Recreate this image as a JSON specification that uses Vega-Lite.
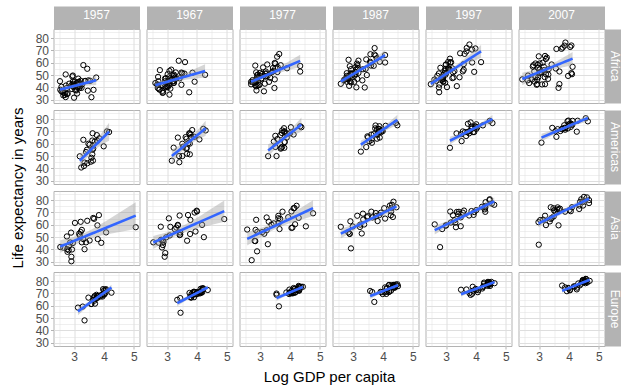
{
  "$schema": "https://vega.github.io/schema/vega-lite/v6.json",
  "padding": {"left": 9.5, "top": 6, "right": 0, "bottom": 0},
  "config": {
    "font": "Liberation Sans",
    "view": {"stroke": "#B3B3B3", "strokeWidth": 1},
    "axis": {"labelFont": "Liberation Sans", "titleFont": "Liberation Sans"}
  },
  "data": {"values": [
    {"cont":"Africa","year":1957,"lgdp":3.48,"lexp":45.7},{"cont":"Africa","year":1967,"lgdp":3.51,"lexp":51.4},{"cont":"Africa","year":1977,"lgdp":3.69,"lexp":58.0},{"cont":"Africa","year":1987,"lgdp":3.75,"lexp":65.8},{"cont":"Africa","year":1997,"lgdp":3.68,"lexp":69.2},{"cont":"Africa","year":2007,"lgdp":3.79,"lexp":72.3},
    {"cont":"Africa","year":1957,"lgdp":3.58,"lexp":32.0},{"cont":"Africa","year":1967,"lgdp":3.74,"lexp":36.0},{"cont":"Africa","year":1977,"lgdp":3.48,"lexp":39.5},{"cont":"Africa","year":1987,"lgdp":3.39,"lexp":39.9},{"cont":"Africa","year":1997,"lgdp":3.36,"lexp":41.0},{"cont":"Africa","year":2007,"lgdp":3.68,"lexp":42.7},
    {"cont":"Africa","year":1957,"lgdp":2.98,"lexp":40.4},{"cont":"Africa","year":1967,"lgdp":3.02,"lexp":44.9},{"cont":"Africa","year":1977,"lgdp":3.01,"lexp":49.2},{"cont":"Africa","year":1987,"lgdp":3.09,"lexp":52.3},{"cont":"Africa","year":1997,"lgdp":3.09,"lexp":54.8},{"cont":"Africa","year":2007,"lgdp":3.16,"lexp":56.7},
    {"cont":"Africa","year":1957,"lgdp":2.96,"lexp":49.6},{"cont":"Africa","year":1967,"lgdp":3.08,"lexp":53.3},{"cont":"Africa","year":1977,"lgdp":3.51,"lexp":59.3},{"cont":"Africa","year":1987,"lgdp":3.79,"lexp":63.6},{"cont":"Africa","year":1997,"lgdp":3.94,"lexp":52.6},{"cont":"Africa","year":2007,"lgdp":4.10,"lexp":50.7},
    {"cont":"Africa","year":1957,"lgdp":2.79,"lexp":34.9},{"cont":"Africa","year":1967,"lgdp":2.93,"lexp":40.7},{"cont":"Africa","year":1977,"lgdp":2.87,"lexp":46.1},{"cont":"Africa","year":1987,"lgdp":2.96,"lexp":49.6},{"cont":"Africa","year":1997,"lgdp":2.98,"lexp":50.3},{"cont":"Africa","year":2007,"lgdp":3.09,"lexp":52.3},
    {"cont":"Africa","year":1957,"lgdp":2.58,"lexp":40.5},{"cont":"Africa","year":1967,"lgdp":2.61,"lexp":43.5},{"cont":"Africa","year":1977,"lgdp":2.75,"lexp":45.9},{"cont":"Africa","year":1987,"lgdp":2.79,"lexp":48.2},{"cont":"Africa","year":1997,"lgdp":2.67,"lexp":45.3},{"cont":"Africa","year":2007,"lgdp":2.63,"lexp":49.6},
    {"cont":"Africa","year":1957,"lgdp":3.12,"lexp":40.4},{"cont":"Africa","year":1967,"lgdp":3.18,"lexp":44.8},{"cont":"Africa","year":1977,"lgdp":3.25,"lexp":49.4},{"cont":"Africa","year":1987,"lgdp":3.42,"lexp":55.0},{"cont":"Africa","year":1997,"lgdp":3.23,"lexp":52.2},{"cont":"Africa","year":2007,"lgdp":3.31,"lexp":50.4},
    {"cont":"Africa","year":1957,"lgdp":3.08,"lexp":37.5},{"cont":"Africa","year":1967,"lgdp":3.06,"lexp":41.5},{"cont":"Africa","year":1977,"lgdp":3.04,"lexp":46.8},{"cont":"Africa","year":1987,"lgdp":2.93,"lexp":50.5},{"cont":"Africa","year":1997,"lgdp":2.87,"lexp":46.1},{"cont":"Africa","year":2007,"lgdp":2.85,"lexp":44.7},
    {"cont":"Africa","year":1957,"lgdp":3.12,"lexp":39.9},{"cont":"Africa","year":1967,"lgdp":3.08,"lexp":43.6},{"cont":"Africa","year":1977,"lgdp":3.05,"lexp":47.4},{"cont":"Africa","year":1987,"lgdp":2.98,"lexp":51.1},{"cont":"Africa","year":1997,"lgdp":3.00,"lexp":51.6},{"cont":"Africa","year":2007,"lgdp":3.23,"lexp":50.7},
    {"cont":"Africa","year":1957,"lgdp":3.27,"lexp":42.5},{"cont":"Africa","year":1967,"lgdp":3.27,"lexp":46.5},{"cont":"Africa","year":1977,"lgdp":3.07,"lexp":50.9},{"cont":"Africa","year":1987,"lgdp":3.12,"lexp":54.9},{"cont":"Africa","year":1997,"lgdp":3.07,"lexp":60.7},{"cont":"Africa","year":2007,"lgdp":2.99,"lexp":65.2},
    {"cont":"Africa","year":1957,"lgdp":2.96,"lexp":40.7},{"cont":"Africa","year":1967,"lgdp":2.94,"lexp":45.0},{"cont":"Africa","year":1977,"lgdp":2.90,"lexp":47.8},{"cont":"Africa","year":1987,"lgdp":2.83,"lexp":47.4},{"cont":"Africa","year":1997,"lgdp":2.49,"lexp":42.6},{"cont":"Africa","year":2007,"lgdp":2.44,"lexp":46.5},
    {"cont":"Africa","year":1957,"lgdp":3.36,"lexp":45.1},{"cont":"Africa","year":1967,"lgdp":3.48,"lexp":52.0},{"cont":"Africa","year":1977,"lgdp":3.51,"lexp":55.6},{"cont":"Africa","year":1987,"lgdp":3.69,"lexp":57.5},{"cont":"Africa","year":1997,"lgdp":3.56,"lexp":53.0},{"cont":"Africa","year":2007,"lgdp":3.56,"lexp":55.3},
    {"cont":"Africa","year":1957,"lgdp":3.18,"lexp":42.5},{"cont":"Africa","year":1967,"lgdp":3.31,"lexp":47.4},{"cont":"Africa","year":1977,"lgdp":3.40,"lexp":52.4},{"cont":"Africa","year":1987,"lgdp":3.33,"lexp":54.7},{"cont":"Africa","year":1997,"lgdp":3.25,"lexp":48.0},{"cont":"Africa","year":2007,"lgdp":3.19,"lexp":48.3},
    {"cont":"Africa","year":1957,"lgdp":3.46,"lexp":37.3},{"cont":"Africa","year":1967,"lgdp":3.48,"lexp":42.1},{"cont":"Africa","year":1977,"lgdp":3.49,"lexp":46.5},{"cont":"Africa","year":1987,"lgdp":3.46,"lexp":50.0},{"cont":"Africa","year":1997,"lgdp":3.28,"lexp":53.2},{"cont":"Africa","year":2007,"lgdp":3.32,"lexp":54.8},
    {"cont":"Africa","year":1957,"lgdp":3.16,"lexp":44.4},{"cont":"Africa","year":1967,"lgdp":3.23,"lexp":49.3},{"cont":"Africa","year":1977,"lgdp":3.44,"lexp":53.3},{"cont":"Africa","year":1987,"lgdp":3.59,"lexp":59.8},{"cont":"Africa","year":1997,"lgdp":3.62,"lexp":67.2},{"cont":"Africa","year":2007,"lgdp":3.75,"lexp":71.3},
    {"cont":"Africa","year":1957,"lgdp":2.63,"lexp":36.0},{"cont":"Africa","year":1967,"lgdp":2.96,"lexp":40.0},{"cont":"Africa","year":1977,"lgdp":2.98,"lexp":42.0},{"cont":"Africa","year":1987,"lgdp":3.31,"lexp":45.7},{"cont":"Africa","year":1997,"lgdp":3.45,"lexp":48.2},{"cont":"Africa","year":2007,"lgdp":4.08,"lexp":51.6},
    {"cont":"Africa","year":1957,"lgdp":2.54,"lexp":38.0},{"cont":"Africa","year":1967,"lgdp":2.67,"lexp":42.2},{"cont":"Africa","year":1977,"lgdp":2.70,"lexp":44.5},{"cont":"Africa","year":1987,"lgdp":2.72,"lexp":46.5},{"cont":"Africa","year":1997,"lgdp":2.96,"lexp":53.4},{"cont":"Africa","year":2007,"lgdp":2.81,"lexp":58.0},
    {"cont":"Africa","year":1957,"lgdp":2.58,"lexp":36.7},{"cont":"Africa","year":1967,"lgdp":2.71,"lexp":42.1},{"cont":"Africa","year":1977,"lgdp":2.75,"lexp":44.5},{"cont":"Africa","year":1987,"lgdp":2.76,"lexp":46.7},{"cont":"Africa","year":1997,"lgdp":2.71,"lexp":49.4},{"cont":"Africa","year":2007,"lgdp":2.84,"lexp":52.9},
    {"cont":"Africa","year":1957,"lgdp":3.65,"lexp":38.0},{"cont":"Africa","year":1967,"lgdp":3.92,"lexp":44.6},{"cont":"Africa","year":1977,"lgdp":4.34,"lexp":52.8},{"cont":"Africa","year":1987,"lgdp":4.07,"lexp":60.2},{"cont":"Africa","year":1997,"lgdp":4.17,"lexp":60.5},{"cont":"Africa","year":2007,"lgdp":4.12,"lexp":56.7},
    {"cont":"Africa","year":1957,"lgdp":2.72,"lexp":32.1},{"cont":"Africa","year":1967,"lgdp":2.87,"lexp":35.9},{"cont":"Africa","year":1977,"lgdp":2.95,"lexp":41.8},{"cont":"Africa","year":1987,"lgdp":2.79,"lexp":49.3},{"cont":"Africa","year":1997,"lgdp":2.81,"lexp":55.9},{"cont":"Africa","year":2007,"lgdp":2.88,"lexp":59.4},
    {"cont":"Africa","year":1957,"lgdp":3.02,"lexp":44.8},{"cont":"Africa","year":1967,"lgdp":3.05,"lexp":48.1},{"cont":"Africa","year":1977,"lgdp":3.00,"lexp":51.8},{"cont":"Africa","year":1987,"lgdp":2.93,"lexp":54.8},{"cont":"Africa","year":1997,"lgdp":3.00,"lexp":58.6},{"cont":"Africa","year":2007,"lgdp":3.12,"lexp":60.0},
    {"cont":"Africa","year":1957,"lgdp":2.76,"lexp":34.6},{"cont":"Africa","year":1967,"lgdp":2.85,"lexp":37.2},{"cont":"Africa","year":1977,"lgdp":2.87,"lexp":40.8},{"cont":"Africa","year":1987,"lgdp":2.90,"lexp":45.0},{"cont":"Africa","year":1997,"lgdp":2.94,"lexp":51.5},{"cont":"Africa","year":2007,"lgdp":2.97,"lexp":56.0},
    {"cont":"Africa","year":1957,"lgdp":2.64,"lexp":33.5},{"cont":"Africa","year":1967,"lgdp":2.85,"lexp":35.5},{"cont":"Africa","year":1977,"lgdp":2.88,"lexp":37.5},{"cont":"Africa","year":1987,"lgdp":2.87,"lexp":41.2},{"cont":"Africa","year":1997,"lgdp":2.90,"lexp":44.9},{"cont":"Africa","year":2007,"lgdp":2.76,"lexp":46.4},
    {"cont":"Africa","year":1957,"lgdp":2.96,"lexp":44.7},{"cont":"Africa","year":1967,"lgdp":3.02,"lexp":50.7},{"cont":"Africa","year":1977,"lgdp":3.10,"lexp":56.2},{"cont":"Africa","year":1987,"lgdp":3.13,"lexp":59.3},{"cont":"Africa","year":1997,"lgdp":3.13,"lexp":54.4},{"cont":"Africa","year":2007,"lgdp":3.17,"lexp":54.1},
    {"cont":"Africa","year":1957,"lgdp":2.53,"lexp":45.0},{"cont":"Africa","year":1967,"lgdp":2.70,"lexp":48.5},{"cont":"Africa","year":1977,"lgdp":2.87,"lexp":52.2},{"cont":"Africa","year":1987,"lgdp":2.89,"lexp":57.2},{"cont":"Africa","year":1997,"lgdp":3.07,"lexp":55.6},{"cont":"Africa","year":2007,"lgdp":3.20,"lexp":42.6},
    {"cont":"Africa","year":1957,"lgdp":2.76,"lexp":39.5},{"cont":"Africa","year":1967,"lgdp":2.85,"lexp":41.5},{"cont":"Africa","year":1977,"lgdp":2.81,"lexp":43.8},{"cont":"Africa","year":1987,"lgdp":2.70,"lexp":46.0},{"cont":"Africa","year":1997,"lgdp":2.78,"lexp":42.2},{"cont":"Africa","year":2007,"lgdp":2.62,"lexp":45.7},
    {"cont":"Africa","year":1957,"lgdp":3.54,"lexp":45.3},{"cont":"Africa","year":1967,"lgdp":4.27,"lexp":50.2},{"cont":"Africa","year":1977,"lgdp":4.34,"lexp":57.4},{"cont":"Africa","year":1987,"lgdp":4.07,"lexp":66.2},{"cont":"Africa","year":1997,"lgdp":3.98,"lexp":71.6},{"cont":"Africa","year":2007,"lgdp":4.08,"lexp":74.0},
    {"cont":"Africa","year":1957,"lgdp":3.20,"lexp":40.8},{"cont":"Africa","year":1967,"lgdp":3.21,"lexp":44.9},{"cont":"Africa","year":1977,"lgdp":3.19,"lexp":49.0},{"cont":"Africa","year":1987,"lgdp":3.05,"lexp":49.4},{"cont":"Africa","year":1997,"lgdp":2.99,"lexp":55.0},{"cont":"Africa","year":2007,"lgdp":3.02,"lexp":59.4},
    {"cont":"Africa","year":1957,"lgdp":2.62,"lexp":37.2},{"cont":"Africa","year":1967,"lgdp":2.69,"lexp":39.5},{"cont":"Africa","year":1977,"lgdp":2.82,"lexp":43.8},{"cont":"Africa","year":1987,"lgdp":2.80,"lexp":47.5},{"cont":"Africa","year":1997,"lgdp":2.84,"lexp":47.5},{"cont":"Africa","year":2007,"lgdp":2.88,"lexp":48.3},
    {"cont":"Africa","year":1957,"lgdp":2.69,"lexp":35.3},{"cont":"Africa","year":1967,"lgdp":2.74,"lexp":38.5},{"cont":"Africa","year":1977,"lgdp":2.84,"lexp":41.7},{"cont":"Africa","year":1987,"lgdp":2.84,"lexp":46.4},{"cont":"Africa","year":1997,"lgdp":2.90,"lexp":49.9},{"cont":"Africa","year":2007,"lgdp":3.02,"lexp":54.5},
    {"cont":"Africa","year":1957,"lgdp":2.93,"lexp":42.3},{"cont":"Africa","year":1967,"lgdp":3.15,"lexp":46.3},{"cont":"Africa","year":1977,"lgdp":3.18,"lexp":50.9},{"cont":"Africa","year":1987,"lgdp":3.15,"lexp":58.0},{"cont":"Africa","year":1997,"lgdp":3.17,"lexp":60.4},{"cont":"Africa","year":2007,"lgdp":3.26,"lexp":64.2},
    {"cont":"Africa","year":1957,"lgdp":3.31,"lexp":58.1},{"cont":"Africa","year":1967,"lgdp":3.39,"lexp":61.6},{"cont":"Africa","year":1977,"lgdp":3.57,"lexp":64.9},{"cont":"Africa","year":1987,"lgdp":3.71,"lexp":66.7},{"cont":"Africa","year":1997,"lgdp":3.87,"lexp":70.7},{"cont":"Africa","year":2007,"lgdp":4.04,"lexp":72.8},
    {"cont":"Africa","year":1957,"lgdp":3.22,"lexp":45.4},{"cont":"Africa","year":1967,"lgdp":3.23,"lexp":50.3},{"cont":"Africa","year":1977,"lgdp":3.43,"lexp":55.7},{"cont":"Africa","year":1987,"lgdp":3.44,"lexp":62.7},{"cont":"Africa","year":1997,"lgdp":3.47,"lexp":67.7},{"cont":"Africa","year":2007,"lgdp":3.58,"lexp":71.2},
    {"cont":"Africa","year":1957,"lgdp":2.69,"lexp":33.8},{"cont":"Africa","year":1967,"lgdp":2.75,"lexp":38.1},{"cont":"Africa","year":1977,"lgdp":2.70,"lexp":42.5},{"cont":"Africa","year":1987,"lgdp":2.59,"lexp":42.9},{"cont":"Africa","year":1997,"lgdp":2.61,"lexp":46.3},{"cont":"Africa","year":2007,"lgdp":2.92,"lexp":42.1},
    {"cont":"Africa","year":1957,"lgdp":3.38,"lexp":45.2},{"cont":"Africa","year":1967,"lgdp":3.58,"lexp":51.2},{"cont":"Africa","year":1977,"lgdp":3.59,"lexp":56.4},{"cont":"Africa","year":1987,"lgdp":3.57,"lexp":60.8},{"cont":"Africa","year":1997,"lgdp":3.59,"lexp":58.9},{"cont":"Africa","year":2007,"lgdp":3.68,"lexp":52.9},
    {"cont":"Africa","year":1957,"lgdp":2.93,"lexp":38.6},{"cont":"Africa","year":1967,"lgdp":3.02,"lexp":40.1},{"cont":"Africa","year":1977,"lgdp":2.91,"lexp":41.3},{"cont":"Africa","year":1987,"lgdp":2.79,"lexp":44.6},{"cont":"Africa","year":1997,"lgdp":2.76,"lexp":51.3},{"cont":"Africa","year":2007,"lgdp":2.79,"lexp":56.9},
    {"cont":"Africa","year":1957,"lgdp":3.04,"lexp":37.8},{"cont":"Africa","year":1967,"lgdp":3.01,"lexp":41.0},{"cont":"Africa","year":1977,"lgdp":3.30,"lexp":44.5},{"cont":"Africa","year":1987,"lgdp":3.14,"lexp":46.9},{"cont":"Africa","year":1997,"lgdp":3.21,"lexp":47.5},{"cont":"Africa","year":2007,"lgdp":3.30,"lexp":46.9},
    {"cont":"Africa","year":1957,"lgdp":3.44,"lexp":55.1},{"cont":"Africa","year":1967,"lgdp":3.60,"lexp":60.5},{"cont":"Africa","year":1977,"lgdp":3.64,"lexp":67.1},{"cont":"Africa","year":1987,"lgdp":3.72,"lexp":71.9},{"cont":"Africa","year":1997,"lgdp":3.78,"lexp":74.8},{"cont":"Africa","year":2007,"lgdp":3.88,"lexp":76.4},
    {"cont":"Africa","year":1957,"lgdp":2.73,"lexp":41.5},{"cont":"Africa","year":1967,"lgdp":2.71,"lexp":45.0},{"cont":"Africa","year":1977,"lgdp":2.83,"lexp":45.0},{"cont":"Africa","year":1987,"lgdp":2.93,"lexp":44.0},{"cont":"Africa","year":1997,"lgdp":2.77,"lexp":36.1},{"cont":"Africa","year":2007,"lgdp":2.94,"lexp":46.2},
    {"cont":"Africa","year":1957,"lgdp":2.94,"lexp":48.9},{"cont":"Africa","year":1967,"lgdp":3.14,"lexp":54.4},{"cont":"Africa","year":1977,"lgdp":3.24,"lexp":58.6},{"cont":"Africa","year":1987,"lgdp":3.18,"lexp":61.7},{"cont":"Africa","year":1997,"lgdp":3.13,"lexp":63.3},{"cont":"Africa","year":2007,"lgdp":3.20,"lexp":65.5},
    {"cont":"Africa","year":1957,"lgdp":3.18,"lexp":39.3},{"cont":"Africa","year":1967,"lgdp":3.21,"lexp":43.6},{"cont":"Africa","year":1977,"lgdp":3.19,"lexp":48.9},{"cont":"Africa","year":1987,"lgdp":3.16,"lexp":55.8},{"cont":"Africa","year":1997,"lgdp":3.14,"lexp":60.2},{"cont":"Africa","year":2007,"lgdp":3.23,"lexp":63.1},
    {"cont":"Africa","year":1957,"lgdp":3.00,"lexp":31.6},{"cont":"Africa","year":1967,"lgdp":3.08,"lexp":34.1},{"cont":"Africa","year":1977,"lgdp":3.13,"lexp":36.8},{"cont":"Africa","year":1987,"lgdp":3.11,"lexp":40.0},{"cont":"Africa","year":1997,"lgdp":2.76,"lexp":39.9},{"cont":"Africa","year":2007,"lgdp":2.94,"lexp":42.6},
    {"cont":"Africa","year":1957,"lgdp":3.10,"lexp":35.0},{"cont":"Africa","year":1967,"lgdp":3.11,"lexp":39.0},{"cont":"Africa","year":1977,"lgdp":3.16,"lexp":43.0},{"cont":"Africa","year":1987,"lgdp":3.04,"lexp":44.5},{"cont":"Africa","year":1997,"lgdp":2.97,"lexp":43.8},{"cont":"Africa","year":2007,"lgdp":2.97,"lexp":48.2},
    {"cont":"Africa","year":1957,"lgdp":3.74,"lexp":48.0},{"cont":"Africa","year":1967,"lgdp":3.85,"lexp":51.9},{"cont":"Africa","year":1977,"lgdp":3.90,"lexp":55.5},{"cont":"Africa","year":1987,"lgdp":3.89,"lexp":60.8},{"cont":"Africa","year":1997,"lgdp":3.87,"lexp":60.2},{"cont":"Africa","year":2007,"lgdp":3.97,"lexp":49.3},
    {"cont":"Africa","year":1957,"lgdp":3.25,"lexp":39.6},{"cont":"Africa","year":1967,"lgdp":3.23,"lexp":43.6},{"cont":"Africa","year":1977,"lgdp":3.34,"lexp":47.8},{"cont":"Africa","year":1987,"lgdp":3.18,"lexp":51.7},{"cont":"Africa","year":1997,"lgdp":3.21,"lexp":55.4},{"cont":"Africa","year":2007,"lgdp":3.42,"lexp":58.6},
    {"cont":"Africa","year":1957,"lgdp":3.09,"lexp":43.4},{"cont":"Africa","year":1967,"lgdp":3.42,"lexp":47.3},{"cont":"Africa","year":1977,"lgdp":3.58,"lexp":52.5},{"cont":"Africa","year":1987,"lgdp":3.60,"lexp":57.7},{"cont":"Africa","year":1997,"lgdp":3.59,"lexp":54.3},{"cont":"Africa","year":2007,"lgdp":3.65,"lexp":39.6},
    {"cont":"Africa","year":1957,"lgdp":2.84,"lexp":43.0},{"cont":"Africa","year":1967,"lgdp":2.93,"lexp":47.1},{"cont":"Africa","year":1977,"lgdp":2.90,"lexp":49.9},{"cont":"Africa","year":1987,"lgdp":2.92,"lexp":51.5},{"cont":"Africa","year":1997,"lgdp":2.90,"lexp":48.5},{"cont":"Africa","year":2007,"lgdp":3.04,"lexp":52.5},
    {"cont":"Africa","year":1957,"lgdp":2.97,"lexp":42.9},{"cont":"Africa","year":1967,"lgdp":3.17,"lexp":46.8},{"cont":"Africa","year":1977,"lgdp":3.19,"lexp":52.9},{"cont":"Africa","year":1987,"lgdp":3.08,"lexp":56.4},{"cont":"Africa","year":1997,"lgdp":2.99,"lexp":58.4},{"cont":"Africa","year":2007,"lgdp":2.95,"lexp":58.4},
    {"cont":"Africa","year":1957,"lgdp":3.14,"lexp":47.1},{"cont":"Africa","year":1967,"lgdp":3.29,"lexp":52.1},{"cont":"Africa","year":1977,"lgdp":3.49,"lexp":59.8},{"cont":"Africa","year":1987,"lgdp":3.58,"lexp":66.9},{"cont":"Africa","year":1997,"lgdp":3.69,"lexp":72.0},{"cont":"Africa","year":2007,"lgdp":3.85,"lexp":73.9},
    {"cont":"Africa","year":1957,"lgdp":2.96,"lexp":41.0},{"cont":"Africa","year":1967,"lgdp":2.96,"lexp":47.3},{"cont":"Africa","year":1977,"lgdp":2.93,"lexp":50.4},{"cont":"Africa","year":1987,"lgdp":2.79,"lexp":51.5},{"cont":"Africa","year":1997,"lgdp":2.91,"lexp":44.6},{"cont":"Africa","year":2007,"lgdp":3.02,"lexp":51.5},
    {"cont":"Africa","year":1957,"lgdp":3.12,"lexp":44.1},{"cont":"Africa","year":1967,"lgdp":3.25,"lexp":47.8},{"cont":"Africa","year":1977,"lgdp":3.20,"lexp":51.4},{"cont":"Africa","year":1987,"lgdp":3.08,"lexp":50.8},{"cont":"Africa","year":1997,"lgdp":3.03,"lexp":40.2},{"cont":"Africa","year":2007,"lgdp":3.10,"lexp":42.4},
    {"cont":"Africa","year":1957,"lgdp":2.72,"lexp":50.5},{"cont":"Africa","year":1967,"lgdp":2.76,"lexp":54.0},{"cont":"Africa","year":1977,"lgdp":2.84,"lexp":57.7},{"cont":"Africa","year":1987,"lgdp":2.85,"lexp":62.4},{"cont":"Africa","year":1997,"lgdp":2.90,"lexp":46.8},{"cont":"Africa","year":2007,"lgdp":2.67,"lexp":43.5},

    {"cont":"Americas","year":1957,"lgdp":3.84,"lexp":64.4},{"cont":"Americas","year":1967,"lgdp":3.91,"lexp":65.6},{"cont":"Americas","year":1977,"lgdp":4.00,"lexp":68.5},{"cont":"Americas","year":1987,"lgdp":3.96,"lexp":70.8},{"cont":"Americas","year":1997,"lgdp":4.04,"lexp":73.3},{"cont":"Americas","year":2007,"lgdp":4.11,"lexp":75.3},
    {"cont":"Americas","year":1957,"lgdp":3.33,"lexp":41.9},{"cont":"Americas","year":1967,"lgdp":3.41,"lexp":45.0},{"cont":"Americas","year":1977,"lgdp":3.55,"lexp":50.0},{"cont":"Americas","year":1987,"lgdp":3.44,"lexp":57.3},{"cont":"Americas","year":1997,"lgdp":3.52,"lexp":62.1},{"cont":"Americas","year":2007,"lgdp":3.58,"lexp":65.6},
    {"cont":"Americas","year":1957,"lgdp":3.40,"lexp":53.3},{"cont":"Americas","year":1967,"lgdp":3.54,"lexp":57.6},{"cont":"Americas","year":1977,"lgdp":3.82,"lexp":61.5},{"cont":"Americas","year":1987,"lgdp":3.89,"lexp":65.0},{"cont":"Americas","year":1997,"lgdp":3.90,"lexp":69.4},{"cont":"Americas","year":2007,"lgdp":3.96,"lexp":72.4},
    {"cont":"Americas","year":1957,"lgdp":4.10,"lexp":70.0},{"cont":"Americas","year":1967,"lgdp":4.21,"lexp":72.1},{"cont":"Americas","year":1977,"lgdp":4.34,"lexp":74.2},{"cont":"Americas","year":1987,"lgdp":4.43,"lexp":76.9},{"cont":"Americas","year":1997,"lgdp":4.46,"lexp":78.6},{"cont":"Americas","year":2007,"lgdp":4.56,"lexp":80.7},
    {"cont":"Americas","year":1957,"lgdp":3.64,"lexp":56.1},{"cont":"Americas","year":1967,"lgdp":3.71,"lexp":60.5},{"cont":"Americas","year":1977,"lgdp":3.68,"lexp":67.1},{"cont":"Americas","year":1987,"lgdp":3.74,"lexp":72.5},{"cont":"Americas","year":1997,"lgdp":4.01,"lexp":75.8},{"cont":"Americas","year":2007,"lgdp":4.12,"lexp":78.6},
    {"cont":"Americas","year":1957,"lgdp":3.43,"lexp":55.1},{"cont":"Americas","year":1967,"lgdp":3.51,"lexp":60.0},{"cont":"Americas","year":1977,"lgdp":3.58,"lexp":63.8},{"cont":"Americas","year":1987,"lgdp":3.69,"lexp":67.8},{"cont":"Americas","year":1997,"lgdp":3.79,"lexp":70.3},{"cont":"Americas","year":2007,"lgdp":3.85,"lexp":72.9},
    {"cont":"Americas","year":1957,"lgdp":3.48,"lexp":60.0},{"cont":"Americas","year":1967,"lgdp":3.62,"lexp":65.4},{"cont":"Americas","year":1977,"lgdp":3.74,"lexp":70.8},{"cont":"Americas","year":1987,"lgdp":3.75,"lexp":74.8},{"cont":"Americas","year":1997,"lgdp":3.82,"lexp":77.3},{"cont":"Americas","year":2007,"lgdp":3.98,"lexp":78.8},
    {"cont":"Americas","year":1957,"lgdp":3.78,"lexp":62.3},{"cont":"Americas","year":1967,"lgdp":3.76,"lexp":68.3},{"cont":"Americas","year":1977,"lgdp":3.80,"lexp":72.6},{"cont":"Americas","year":1987,"lgdp":3.88,"lexp":74.2},{"cont":"Americas","year":1997,"lgdp":3.73,"lexp":76.2},{"cont":"Americas","year":2007,"lgdp":3.95,"lexp":78.3},
    {"cont":"Americas","year":1957,"lgdp":3.19,"lexp":49.8},{"cont":"Americas","year":1967,"lgdp":3.22,"lexp":56.8},{"cont":"Americas","year":1977,"lgdp":3.46,"lexp":61.8},{"cont":"Americas","year":1987,"lgdp":3.48,"lexp":66.0},{"cont":"Americas","year":1997,"lgdp":3.56,"lexp":70.0},{"cont":"Americas","year":2007,"lgdp":3.78,"lexp":72.2},
    {"cont":"Americas","year":1957,"lgdp":3.61,"lexp":51.4},{"cont":"Americas","year":1967,"lgdp":3.66,"lexp":56.7},{"cont":"Americas","year":1977,"lgdp":3.82,"lexp":61.3},{"cont":"Americas","year":1987,"lgdp":3.81,"lexp":67.2},{"cont":"Americas","year":1997,"lgdp":3.87,"lexp":72.3},{"cont":"Americas","year":2007,"lgdp":3.84,"lexp":75.0},
    {"cont":"Americas","year":1957,"lgdp":3.58,"lexp":48.6},{"cont":"Americas","year":1967,"lgdp":3.64,"lexp":55.9},{"cont":"Americas","year":1977,"lgdp":3.71,"lexp":56.7},{"cont":"Americas","year":1987,"lgdp":3.62,"lexp":63.2},{"cont":"Americas","year":1997,"lgdp":3.71,"lexp":69.5},{"cont":"Americas","year":2007,"lgdp":3.76,"lexp":71.9},
    {"cont":"Americas","year":1957,"lgdp":3.44,"lexp":44.1},{"cont":"Americas","year":1967,"lgdp":3.51,"lexp":50.0},{"cont":"Americas","year":1977,"lgdp":3.69,"lexp":56.0},{"cont":"Americas","year":1987,"lgdp":3.63,"lexp":60.8},{"cont":"Americas","year":1997,"lgdp":3.67,"lexp":66.3},{"cont":"Americas","year":2007,"lgdp":3.71,"lexp":70.3},
    {"cont":"Americas","year":1957,"lgdp":3.24,"lexp":40.7},{"cont":"Americas","year":1967,"lgdp":3.16,"lexp":46.2},{"cont":"Americas","year":1977,"lgdp":3.27,"lexp":49.9},{"cont":"Americas","year":1987,"lgdp":3.26,"lexp":53.6},{"cont":"Americas","year":1997,"lgdp":3.13,"lexp":56.7},{"cont":"Americas","year":2007,"lgdp":3.08,"lexp":60.9},
    {"cont":"Americas","year":1957,"lgdp":3.35,"lexp":44.7},{"cont":"Americas","year":1967,"lgdp":3.40,"lexp":50.0},{"cont":"Americas","year":1977,"lgdp":3.51,"lexp":57.4},{"cont":"Americas","year":1987,"lgdp":3.50,"lexp":65.2},{"cont":"Americas","year":1997,"lgdp":3.50,"lexp":67.7},{"cont":"Americas","year":2007,"lgdp":3.55,"lexp":70.2},
    {"cont":"Americas","year":1957,"lgdp":3.61,"lexp":62.6},{"cont":"Americas","year":1967,"lgdp":3.79,"lexp":67.5},{"cont":"Americas","year":1977,"lgdp":3.82,"lexp":70.1},{"cont":"Americas","year":1987,"lgdp":3.80,"lexp":71.8},{"cont":"Americas","year":1997,"lgdp":3.85,"lexp":72.3},{"cont":"Americas","year":2007,"lgdp":3.86,"lexp":72.6},
    {"cont":"Americas","year":1957,"lgdp":3.62,"lexp":55.2},{"cont":"Americas","year":1967,"lgdp":3.76,"lexp":60.1},{"cont":"Americas","year":1977,"lgdp":3.89,"lexp":65.0},{"cont":"Americas","year":1987,"lgdp":3.94,"lexp":69.5},{"cont":"Americas","year":1997,"lgdp":3.99,"lexp":73.7},{"cont":"Americas","year":2007,"lgdp":4.08,"lexp":76.2},
    {"cont":"Americas","year":1957,"lgdp":3.56,"lexp":45.4},{"cont":"Americas","year":1967,"lgdp":3.67,"lexp":51.9},{"cont":"Americas","year":1977,"lgdp":3.74,"lexp":57.5},{"cont":"Americas","year":1987,"lgdp":3.54,"lexp":62.0},{"cont":"Americas","year":1997,"lgdp":3.35,"lexp":68.4},{"cont":"Americas","year":2007,"lgdp":3.44,"lexp":72.9},
    {"cont":"Americas","year":1957,"lgdp":3.52,"lexp":59.2},{"cont":"Americas","year":1967,"lgdp":3.65,"lexp":64.1},{"cont":"Americas","year":1977,"lgdp":3.73,"lexp":68.7},{"cont":"Americas","year":1987,"lgdp":3.85,"lexp":72.1},{"cont":"Americas","year":1997,"lgdp":3.85,"lexp":74.0},{"cont":"Americas","year":2007,"lgdp":3.99,"lexp":75.5},
    {"cont":"Americas","year":1957,"lgdp":3.31,"lexp":63.2},{"cont":"Americas","year":1967,"lgdp":3.36,"lexp":65.0},{"cont":"Americas","year":1977,"lgdp":3.51,"lexp":66.4},{"cont":"Americas","year":1987,"lgdp":3.61,"lexp":67.4},{"cont":"Americas","year":1997,"lgdp":3.63,"lexp":69.4},{"cont":"Americas","year":2007,"lgdp":3.62,"lexp":71.8},
    {"cont":"Americas","year":1957,"lgdp":3.63,"lexp":46.3},{"cont":"Americas","year":1967,"lgdp":3.76,"lexp":51.4},{"cont":"Americas","year":1977,"lgdp":3.81,"lexp":56.7},{"cont":"Americas","year":1987,"lgdp":3.80,"lexp":64.1},{"cont":"Americas","year":1997,"lgdp":3.77,"lexp":68.4},{"cont":"Americas","year":2007,"lgdp":3.87,"lexp":71.4},
    {"cont":"Americas","year":1957,"lgdp":3.62,"lexp":68.5},{"cont":"Americas","year":1967,"lgdp":3.84,"lexp":71.1},{"cont":"Americas","year":1977,"lgdp":4.03,"lexp":73.4},{"cont":"Americas","year":1987,"lgdp":4.09,"lexp":74.6},{"cont":"Americas","year":1997,"lgdp":4.23,"lexp":74.9},{"cont":"Americas","year":2007,"lgdp":4.29,"lexp":78.7},
    {"cont":"Americas","year":1957,"lgdp":3.69,"lexp":61.8},{"cont":"Americas","year":1967,"lgdp":3.80,"lexp":65.4},{"cont":"Americas","year":1977,"lgdp":3.90,"lexp":68.3},{"cont":"Americas","year":1987,"lgdp":3.87,"lexp":69.6},{"cont":"Americas","year":1997,"lgdp":3.94,"lexp":69.5},{"cont":"Americas","year":2007,"lgdp":4.26,"lexp":69.8},
    {"cont":"Americas","year":1957,"lgdp":4.17,"lexp":69.5},{"cont":"Americas","year":1967,"lgdp":4.29,"lexp":70.8},{"cont":"Americas","year":1977,"lgdp":4.38,"lexp":73.4},{"cont":"Americas","year":1987,"lgdp":4.48,"lexp":75.0},{"cont":"Americas","year":1997,"lgdp":4.55,"lexp":76.8},{"cont":"Americas","year":2007,"lgdp":4.63,"lexp":78.2},
    {"cont":"Americas","year":1957,"lgdp":3.76,"lexp":67.0},{"cont":"Americas","year":1967,"lgdp":3.74,"lexp":68.5},{"cont":"Americas","year":1977,"lgdp":3.81,"lexp":69.5},{"cont":"Americas","year":1987,"lgdp":3.87,"lexp":71.9},{"cont":"Americas","year":1997,"lgdp":3.97,"lexp":74.2},{"cont":"Americas","year":2007,"lgdp":4.03,"lexp":76.4},
    {"cont":"Americas","year":1957,"lgdp":3.99,"lexp":57.9},{"cont":"Americas","year":1967,"lgdp":4.08,"lexp":63.5},{"cont":"Americas","year":1977,"lgdp":4.12,"lexp":67.5},{"cont":"Americas","year":1987,"lgdp":3.99,"lexp":70.2},{"cont":"Americas","year":1997,"lgdp":4.01,"lexp":72.1},{"cont":"Americas","year":2007,"lgdp":4.06,"lexp":73.7},

    {"cont":"Asia","year":1957,"lgdp":2.91,"lexp":30.3},{"cont":"Asia","year":1967,"lgdp":2.92,"lexp":34.0},{"cont":"Asia","year":1977,"lgdp":2.90,"lexp":38.4},{"cont":"Asia","year":1987,"lgdp":2.93,"lexp":40.8},{"cont":"Asia","year":1997,"lgdp":2.80,"lexp":41.8},{"cont":"Asia","year":2007,"lgdp":2.99,"lexp":43.8},
    {"cont":"Asia","year":1957,"lgdp":4.07,"lexp":53.8},{"cont":"Asia","year":1967,"lgdp":4.17,"lexp":59.9},{"cont":"Asia","year":1977,"lgdp":4.29,"lexp":65.6},{"cont":"Asia","year":1987,"lgdp":4.27,"lexp":70.8},{"cont":"Asia","year":1997,"lgdp":4.31,"lexp":73.9},{"cont":"Asia","year":2007,"lgdp":4.47,"lexp":75.6},
    {"cont":"Asia","year":1957,"lgdp":2.82,"lexp":39.3},{"cont":"Asia","year":1967,"lgdp":2.86,"lexp":43.5},{"cont":"Asia","year":1977,"lgdp":2.82,"lexp":46.9},{"cont":"Asia","year":1987,"lgdp":2.88,"lexp":52.8},{"cont":"Asia","year":1997,"lgdp":2.99,"lexp":59.4},{"cont":"Asia","year":2007,"lgdp":3.14,"lexp":64.1},
    {"cont":"Asia","year":1957,"lgdp":2.64,"lexp":41.4},{"cont":"Asia","year":1967,"lgdp":2.72,"lexp":45.4},{"cont":"Asia","year":1977,"lgdp":2.72,"lexp":31.2},{"cont":"Asia","year":1987,"lgdp":2.84,"lexp":53.9},{"cont":"Asia","year":1997,"lgdp":2.87,"lexp":56.5},{"cont":"Asia","year":2007,"lgdp":3.23,"lexp":59.7},
    {"cont":"Asia","year":1957,"lgdp":2.76,"lexp":50.5},{"cont":"Asia","year":1967,"lgdp":2.79,"lexp":58.4},{"cont":"Asia","year":1977,"lgdp":2.87,"lexp":64.0},{"cont":"Asia","year":1987,"lgdp":3.14,"lexp":67.3},{"cont":"Asia","year":1997,"lgdp":3.36,"lexp":70.4},{"cont":"Asia","year":2007,"lgdp":3.70,"lexp":73.0},
    {"cont":"Asia","year":1957,"lgdp":3.67,"lexp":64.8},{"cont":"Asia","year":1967,"lgdp":3.92,"lexp":69.9},{"cont":"Asia","year":1977,"lgdp":4.15,"lexp":73.6},{"cont":"Asia","year":1987,"lgdp":4.30,"lexp":76.2},{"cont":"Asia","year":1997,"lgdp":4.45,"lexp":80.0},{"cont":"Asia","year":2007,"lgdp":4.60,"lexp":82.2},
    {"cont":"Asia","year":1957,"lgdp":2.77,"lexp":40.2},{"cont":"Asia","year":1967,"lgdp":2.85,"lexp":47.2},{"cont":"Asia","year":1977,"lgdp":2.91,"lexp":54.2},{"cont":"Asia","year":1987,"lgdp":2.99,"lexp":58.6},{"cont":"Asia","year":1997,"lgdp":3.16,"lexp":61.8},{"cont":"Asia","year":2007,"lgdp":3.39,"lexp":64.7},
    {"cont":"Asia","year":1957,"lgdp":2.93,"lexp":39.9},{"cont":"Asia","year":1967,"lgdp":2.88,"lexp":46.0},{"cont":"Asia","year":1977,"lgdp":3.14,"lexp":52.7},{"cont":"Asia","year":1987,"lgdp":3.24,"lexp":60.1},{"cont":"Asia","year":1997,"lgdp":3.49,"lexp":66.0},{"cont":"Asia","year":2007,"lgdp":3.55,"lexp":70.7},
    {"cont":"Asia","year":1957,"lgdp":3.52,"lexp":47.2},{"cont":"Asia","year":1967,"lgdp":3.77,"lexp":52.5},{"cont":"Asia","year":1977,"lgdp":4.08,"lexp":57.7},{"cont":"Asia","year":1987,"lgdp":3.82,"lexp":63.0},{"cont":"Asia","year":1997,"lgdp":3.92,"lexp":68.0},{"cont":"Asia","year":2007,"lgdp":4.06,"lexp":71.0},
    {"cont":"Asia","year":1957,"lgdp":3.79,"lexp":48.4},{"cont":"Asia","year":1967,"lgdp":3.95,"lexp":54.5},{"cont":"Asia","year":1977,"lgdp":4.17,"lexp":60.4},{"cont":"Asia","year":1987,"lgdp":4.07,"lexp":65.0},{"cont":"Asia","year":1997,"lgdp":3.49,"lexp":58.8},{"cont":"Asia","year":2007,"lgdp":3.65,"lexp":59.5},
    {"cont":"Asia","year":1957,"lgdp":3.83,"lexp":67.8},{"cont":"Asia","year":1967,"lgdp":4.00,"lexp":70.8},{"cont":"Asia","year":1977,"lgdp":4.12,"lexp":73.4},{"cont":"Asia","year":1987,"lgdp":4.23,"lexp":75.6},{"cont":"Asia","year":1997,"lgdp":4.32,"lexp":78.3},{"cont":"Asia","year":2007,"lgdp":4.41,"lexp":80.7},
    {"cont":"Asia","year":1957,"lgdp":3.64,"lexp":65.5},{"cont":"Asia","year":1967,"lgdp":3.99,"lexp":71.4},{"cont":"Asia","year":1977,"lgdp":4.22,"lexp":75.4},{"cont":"Asia","year":1987,"lgdp":4.35,"lexp":78.7},{"cont":"Asia","year":1997,"lgdp":4.46,"lexp":80.7},{"cont":"Asia","year":2007,"lgdp":4.50,"lexp":82.6},
    {"cont":"Asia","year":1957,"lgdp":3.40,"lexp":45.7},{"cont":"Asia","year":1967,"lgdp":3.44,"lexp":52.0},{"cont":"Asia","year":1977,"lgdp":3.46,"lexp":61.1},{"cont":"Asia","year":1987,"lgdp":3.65,"lexp":65.9},{"cont":"Asia","year":1997,"lgdp":3.56,"lexp":69.8},{"cont":"Asia","year":2007,"lgdp":3.66,"lexp":72.5},
    {"cont":"Asia","year":1957,"lgdp":3.22,"lexp":54.1},{"cont":"Asia","year":1967,"lgdp":3.36,"lexp":59.9},{"cont":"Asia","year":1977,"lgdp":3.61,"lexp":67.2},{"cont":"Asia","year":1987,"lgdp":3.61,"lexp":70.6},{"cont":"Asia","year":1997,"lgdp":3.23,"lexp":67.7},{"cont":"Asia","year":2007,"lgdp":3.20,"lexp":67.3},
    {"cont":"Asia","year":1957,"lgdp":3.17,"lexp":52.7},{"cont":"Asia","year":1967,"lgdp":3.31,"lexp":57.7},{"cont":"Asia","year":1977,"lgdp":3.67,"lexp":64.8},{"cont":"Asia","year":1987,"lgdp":3.93,"lexp":69.8},{"cont":"Asia","year":1997,"lgdp":4.20,"lexp":74.6},{"cont":"Asia","year":2007,"lgdp":4.37,"lexp":78.6},
    {"cont":"Asia","year":1957,"lgdp":5.06,"lexp":58.0},{"cont":"Asia","year":1967,"lgdp":4.91,"lexp":64.6},{"cont":"Asia","year":1977,"lgdp":4.77,"lexp":69.3},{"cont":"Asia","year":1987,"lgdp":4.45,"lexp":74.2},{"cont":"Asia","year":1997,"lgdp":4.61,"lexp":76.2},{"cont":"Asia","year":2007,"lgdp":4.67,"lexp":77.6},
    {"cont":"Asia","year":1957,"lgdp":3.78,"lexp":59.5},{"cont":"Asia","year":1967,"lgdp":3.78,"lexp":63.9},{"cont":"Asia","year":1977,"lgdp":3.94,"lexp":66.1},{"cont":"Asia","year":1987,"lgdp":3.88,"lexp":67.9},{"cont":"Asia","year":1997,"lgdp":3.94,"lexp":70.3},{"cont":"Asia","year":2007,"lgdp":4.02,"lexp":72.0},
    {"cont":"Asia","year":1957,"lgdp":3.26,"lexp":55.8},{"cont":"Asia","year":1967,"lgdp":3.36,"lexp":59.4},{"cont":"Asia","year":1977,"lgdp":3.61,"lexp":65.3},{"cont":"Asia","year":1987,"lgdp":3.76,"lexp":69.5},{"cont":"Asia","year":1997,"lgdp":4.01,"lexp":71.9},{"cont":"Asia","year":2007,"lgdp":4.10,"lexp":74.2},
    {"cont":"Asia","year":1957,"lgdp":2.96,"lexp":45.2},{"cont":"Asia","year":1967,"lgdp":3.09,"lexp":51.3},{"cont":"Asia","year":1977,"lgdp":3.22,"lexp":55.5},{"cont":"Asia","year":1987,"lgdp":3.37,"lexp":60.2},{"cont":"Asia","year":1997,"lgdp":3.28,"lexp":63.6},{"cont":"Asia","year":2007,"lgdp":3.49,"lexp":66.8},
    {"cont":"Asia","year":1957,"lgdp":2.54,"lexp":41.9},{"cont":"Asia","year":1967,"lgdp":2.54,"lexp":45.7},{"cont":"Asia","year":1977,"lgdp":2.57,"lexp":56.1},{"cont":"Asia","year":1987,"lgdp":2.59,"lexp":58.3},{"cont":"Asia","year":1997,"lgdp":2.62,"lexp":60.3},{"cont":"Asia","year":2007,"lgdp":2.98,"lexp":62.1},
    {"cont":"Asia","year":1957,"lgdp":2.78,"lexp":38.0},{"cont":"Asia","year":1967,"lgdp":2.83,"lexp":41.5},{"cont":"Asia","year":1977,"lgdp":2.84,"lexp":46.7},{"cont":"Asia","year":1987,"lgdp":2.89,"lexp":52.5},{"cont":"Asia","year":1997,"lgdp":3.00,"lexp":59.4},{"cont":"Asia","year":2007,"lgdp":3.04,"lexp":63.8},
    {"cont":"Asia","year":1957,"lgdp":3.35,"lexp":40.1},{"cont":"Asia","year":1967,"lgdp":3.67,"lexp":47.0},{"cont":"Asia","year":1977,"lgdp":4.05,"lexp":57.4},{"cont":"Asia","year":1987,"lgdp":4.26,"lexp":67.7},{"cont":"Asia","year":1997,"lgdp":4.29,"lexp":72.5},{"cont":"Asia","year":2007,"lgdp":4.35,"lexp":75.6},
    {"cont":"Asia","year":1957,"lgdp":2.87,"lexp":45.6},{"cont":"Asia","year":1967,"lgdp":2.97,"lexp":49.8},{"cont":"Asia","year":1977,"lgdp":3.07,"lexp":54.0},{"cont":"Asia","year":1987,"lgdp":3.23,"lexp":58.2},{"cont":"Asia","year":1997,"lgdp":3.31,"lexp":61.8},{"cont":"Asia","year":2007,"lgdp":3.42,"lexp":65.5},
    {"cont":"Asia","year":1957,"lgdp":3.19,"lexp":51.3},{"cont":"Asia","year":1967,"lgdp":3.26,"lexp":56.4},{"cont":"Asia","year":1977,"lgdp":3.38,"lexp":60.1},{"cont":"Asia","year":1987,"lgdp":3.34,"lexp":64.2},{"cont":"Asia","year":1997,"lgdp":3.40,"lexp":68.6},{"cont":"Asia","year":2007,"lgdp":3.50,"lexp":71.7},
    {"cont":"Asia","year":1957,"lgdp":3.91,"lexp":45.3},{"cont":"Asia","year":1967,"lgdp":4.23,"lexp":49.9},{"cont":"Asia","year":1977,"lgdp":4.53,"lexp":58.7},{"cont":"Asia","year":1987,"lgdp":4.33,"lexp":66.3},{"cont":"Asia","year":1997,"lgdp":4.31,"lexp":70.5},{"cont":"Asia","year":2007,"lgdp":4.34,"lexp":72.8},
    {"cont":"Asia","year":1957,"lgdp":3.44,"lexp":63.2},{"cont":"Asia","year":1967,"lgdp":3.70,"lexp":67.9},{"cont":"Asia","year":1977,"lgdp":4.05,"lexp":70.8},{"cont":"Asia","year":1987,"lgdp":4.28,"lexp":73.6},{"cont":"Asia","year":1997,"lgdp":4.53,"lexp":77.2},{"cont":"Asia","year":2007,"lgdp":4.67,"lexp":80.0},
    {"cont":"Asia","year":1957,"lgdp":3.03,"lexp":61.5},{"cont":"Asia","year":1967,"lgdp":3.06,"lexp":65.2},{"cont":"Asia","year":1977,"lgdp":3.22,"lexp":65.9},{"cont":"Asia","year":1987,"lgdp":3.33,"lexp":69.0},{"cont":"Asia","year":1997,"lgdp":3.43,"lexp":70.5},{"cont":"Asia","year":2007,"lgdp":3.60,"lexp":72.4},
    {"cont":"Asia","year":1957,"lgdp":3.31,"lexp":48.3},{"cont":"Asia","year":1967,"lgdp":3.44,"lexp":53.7},{"cont":"Asia","year":1977,"lgdp":3.62,"lexp":61.2},{"cont":"Asia","year":1987,"lgdp":3.49,"lexp":67.0},{"cont":"Asia","year":1997,"lgdp":3.60,"lexp":71.5},{"cont":"Asia","year":2007,"lgdp":3.62,"lexp":74.1},
    {"cont":"Asia","year":1957,"lgdp":3.22,"lexp":62.4},{"cont":"Asia","year":1967,"lgdp":3.42,"lexp":67.5},{"cont":"Asia","year":1977,"lgdp":3.75,"lexp":70.6},{"cont":"Asia","year":1987,"lgdp":4.04,"lexp":73.4},{"cont":"Asia","year":1997,"lgdp":4.31,"lexp":75.3},{"cont":"Asia","year":2007,"lgdp":4.46,"lexp":78.4},
    {"cont":"Asia","year":1957,"lgdp":2.90,"lexp":53.6},{"cont":"Asia","year":1967,"lgdp":3.11,"lexp":58.3},{"cont":"Asia","year":1977,"lgdp":3.29,"lexp":62.5},{"cont":"Asia","year":1987,"lgdp":3.47,"lexp":66.1},{"cont":"Asia","year":1997,"lgdp":3.77,"lexp":67.5},{"cont":"Asia","year":2007,"lgdp":3.87,"lexp":70.6},
    {"cont":"Asia","year":1957,"lgdp":2.83,"lexp":42.9},{"cont":"Asia","year":1967,"lgdp":2.80,"lexp":47.8},{"cont":"Asia","year":1977,"lgdp":2.85,"lexp":55.8},{"cont":"Asia","year":1987,"lgdp":2.91,"lexp":62.8},{"cont":"Asia","year":1997,"lgdp":3.14,"lexp":70.7},{"cont":"Asia","year":2007,"lgdp":3.39,"lexp":74.2},
    {"cont":"Asia","year":1957,"lgdp":3.26,"lexp":45.7},{"cont":"Asia","year":1967,"lgdp":3.42,"lexp":51.6},{"cont":"Asia","year":1977,"lgdp":3.65,"lexp":56.5},{"cont":"Asia","year":1987,"lgdp":3.77,"lexp":67.0},{"cont":"Asia","year":1997,"lgdp":3.85,"lexp":71.1},{"cont":"Asia","year":2007,"lgdp":3.48,"lexp":73.4},
    {"cont":"Asia","year":1957,"lgdp":2.91,"lexp":34.0},{"cont":"Asia","year":1967,"lgdp":2.94,"lexp":37.0},{"cont":"Asia","year":1977,"lgdp":3.26,"lexp":44.2},{"cont":"Asia","year":1987,"lgdp":3.29,"lexp":52.9},{"cont":"Asia","year":1997,"lgdp":3.33,"lexp":58.0},{"cont":"Asia","year":2007,"lgdp":3.36,"lexp":62.7},

    {"cont":"Europe","year":1957,"lgdp":3.29,"lexp":59.3},{"cont":"Europe","year":1967,"lgdp":3.44,"lexp":66.2},{"cont":"Europe","year":1977,"lgdp":3.55,"lexp":68.9},{"cont":"Europe","year":1987,"lgdp":3.57,"lexp":72.0},{"cont":"Europe","year":1997,"lgdp":3.50,"lexp":73.0},{"cont":"Europe","year":2007,"lgdp":3.77,"lexp":76.4},
    {"cont":"Europe","year":1957,"lgdp":3.95,"lexp":67.5},{"cont":"Europe","year":1967,"lgdp":4.11,"lexp":70.1},{"cont":"Europe","year":1977,"lgdp":4.30,"lexp":72.2},{"cont":"Europe","year":1987,"lgdp":4.37,"lexp":74.9},{"cont":"Europe","year":1997,"lgdp":4.46,"lexp":77.5},{"cont":"Europe","year":2007,"lgdp":4.56,"lexp":79.8},
    {"cont":"Europe","year":1957,"lgdp":3.99,"lexp":69.2},{"cont":"Europe","year":1967,"lgdp":4.12,"lexp":70.9},{"cont":"Europe","year":1977,"lgdp":4.28,"lexp":72.8},{"cont":"Europe","year":1987,"lgdp":4.35,"lexp":75.4},{"cont":"Europe","year":1997,"lgdp":4.44,"lexp":77.5},{"cont":"Europe","year":2007,"lgdp":4.53,"lexp":79.4},
    {"cont":"Europe","year":1957,"lgdp":3.13,"lexp":58.5},{"cont":"Europe","year":1967,"lgdp":3.34,"lexp":64.8},{"cont":"Europe","year":1977,"lgdp":3.55,"lexp":69.9},{"cont":"Europe","year":1987,"lgdp":3.64,"lexp":71.1},{"cont":"Europe","year":1997,"lgdp":3.68,"lexp":73.2},{"cont":"Europe","year":2007,"lgdp":3.87,"lexp":74.9},
    {"cont":"Europe","year":1957,"lgdp":3.48,"lexp":66.6},{"cont":"Europe","year":1967,"lgdp":3.75,"lexp":70.4},{"cont":"Europe","year":1977,"lgdp":3.88,"lexp":70.8},{"cont":"Europe","year":1987,"lgdp":3.92,"lexp":71.3},{"cont":"Europe","year":1997,"lgdp":3.78,"lexp":70.3},{"cont":"Europe","year":2007,"lgdp":4.03,"lexp":73.0},
    {"cont":"Europe","year":1957,"lgdp":3.64,"lexp":64.8},{"cont":"Europe","year":1967,"lgdp":3.84,"lexp":68.5},{"cont":"Europe","year":1977,"lgdp":4.05,"lexp":70.6},{"cont":"Europe","year":1987,"lgdp":4.14,"lexp":71.5},{"cont":"Europe","year":1997,"lgdp":3.99,"lexp":73.7},{"cont":"Europe","year":2007,"lgdp":4.16,"lexp":75.7},
    {"cont":"Europe","year":1957,"lgdp":3.92,"lexp":69.0},{"cont":"Europe","year":1967,"lgdp":4.06,"lexp":70.4},{"cont":"Europe","year":1977,"lgdp":4.17,"lexp":70.7},{"cont":"Europe","year":1987,"lgdp":4.21,"lexp":71.6},{"cont":"Europe","year":1997,"lgdp":4.21,"lexp":74.0},{"cont":"Europe","year":2007,"lgdp":4.36,"lexp":76.5},
    {"cont":"Europe","year":1957,"lgdp":4.05,"lexp":71.8},{"cont":"Europe","year":1967,"lgdp":4.20,"lexp":73.0},{"cont":"Europe","year":1977,"lgdp":4.31,"lexp":74.7},{"cont":"Europe","year":1987,"lgdp":4.40,"lexp":74.8},{"cont":"Europe","year":1997,"lgdp":4.47,"lexp":76.1},{"cont":"Europe","year":2007,"lgdp":4.55,"lexp":78.3},
    {"cont":"Europe","year":1957,"lgdp":3.88,"lexp":67.5},{"cont":"Europe","year":1967,"lgdp":4.04,"lexp":69.8},{"cont":"Europe","year":1977,"lgdp":4.19,"lexp":72.5},{"cont":"Europe","year":1987,"lgdp":4.33,"lexp":74.8},{"cont":"Europe","year":1997,"lgdp":4.38,"lexp":77.1},{"cont":"Europe","year":2007,"lgdp":4.52,"lexp":79.3},
    {"cont":"Europe","year":1957,"lgdp":3.94,"lexp":68.9},{"cont":"Europe","year":1967,"lgdp":4.11,"lexp":71.6},{"cont":"Europe","year":1977,"lgdp":4.26,"lexp":73.8},{"cont":"Europe","year":1987,"lgdp":4.34,"lexp":76.3},{"cont":"Europe","year":1997,"lgdp":4.41,"lexp":78.6},{"cont":"Europe","year":2007,"lgdp":4.48,"lexp":80.7},
    {"cont":"Europe","year":1957,"lgdp":4.01,"lexp":69.1},{"cont":"Europe","year":1967,"lgdp":4.17,"lexp":70.8},{"cont":"Europe","year":1977,"lgdp":4.31,"lexp":72.5},{"cont":"Europe","year":1987,"lgdp":4.39,"lexp":74.8},{"cont":"Europe","year":1997,"lgdp":4.44,"lexp":77.3},{"cont":"Europe","year":2007,"lgdp":4.51,"lexp":79.4},
    {"cont":"Europe","year":1957,"lgdp":3.69,"lexp":67.9},{"cont":"Europe","year":1967,"lgdp":3.93,"lexp":71.0},{"cont":"Europe","year":1977,"lgdp":4.15,"lexp":73.7},{"cont":"Europe","year":1987,"lgdp":4.21,"lexp":76.7},{"cont":"Europe","year":1997,"lgdp":4.27,"lexp":77.9},{"cont":"Europe","year":2007,"lgdp":4.44,"lexp":79.5},
    {"cont":"Europe","year":1957,"lgdp":3.78,"lexp":66.4},{"cont":"Europe","year":1967,"lgdp":3.97,"lexp":69.5},{"cont":"Europe","year":1977,"lgdp":4.07,"lexp":70.0},{"cont":"Europe","year":1987,"lgdp":4.11,"lexp":69.6},{"cont":"Europe","year":1997,"lgdp":4.06,"lexp":71.0},{"cont":"Europe","year":2007,"lgdp":4.26,"lexp":73.3},
    {"cont":"Europe","year":1957,"lgdp":3.97,"lexp":73.5},{"cont":"Europe","year":1967,"lgdp":4.12,"lexp":73.7},{"cont":"Europe","year":1977,"lgdp":4.29,"lexp":76.1},{"cont":"Europe","year":1987,"lgdp":4.43,"lexp":77.2},{"cont":"Europe","year":1997,"lgdp":4.45,"lexp":79.0},{"cont":"Europe","year":2007,"lgdp":4.56,"lexp":81.8},
    {"cont":"Europe","year":1957,"lgdp":3.75,"lexp":68.9},{"cont":"Europe","year":1967,"lgdp":3.88,"lexp":71.1},{"cont":"Europe","year":1977,"lgdp":4.05,"lexp":72.0},{"cont":"Europe","year":1987,"lgdp":4.14,"lexp":74.4},{"cont":"Europe","year":1997,"lgdp":4.39,"lexp":76.1},{"cont":"Europe","year":2007,"lgdp":4.61,"lexp":78.9},
    {"cont":"Europe","year":1957,"lgdp":3.80,"lexp":67.8},{"cont":"Europe","year":1967,"lgdp":4.00,"lexp":71.1},{"cont":"Europe","year":1977,"lgdp":4.15,"lexp":73.5},{"cont":"Europe","year":1987,"lgdp":4.28,"lexp":76.4},{"cont":"Europe","year":1997,"lgdp":4.39,"lexp":78.8},{"cont":"Europe","year":2007,"lgdp":4.46,"lexp":80.5},
    {"cont":"Europe","year":1957,"lgdp":3.57,"lexp":61.4},{"cont":"Europe","year":1967,"lgdp":3.77,"lexp":67.2},{"cont":"Europe","year":1977,"lgdp":3.98,"lexp":73.1},{"cont":"Europe","year":1987,"lgdp":4.07,"lexp":74.9},{"cont":"Europe","year":1997,"lgdp":3.89,"lexp":75.4},{"cont":"Europe","year":2007,"lgdp":3.97,"lexp":74.5},
    {"cont":"Europe","year":1957,"lgdp":4.05,"lexp":73.0},{"cont":"Europe","year":1967,"lgdp":4.19,"lexp":73.8},{"cont":"Europe","year":1977,"lgdp":4.33,"lexp":75.2},{"cont":"Europe","year":1987,"lgdp":4.37,"lexp":76.8},{"cont":"Europe","year":1997,"lgdp":4.48,"lexp":78.0},{"cont":"Europe","year":2007,"lgdp":4.57,"lexp":79.8},
    {"cont":"Europe","year":1957,"lgdp":4.07,"lexp":73.4},{"cont":"Europe","year":1967,"lgdp":4.21,"lexp":74.1},{"cont":"Europe","year":1977,"lgdp":4.37,"lexp":75.4},{"cont":"Europe","year":1987,"lgdp":4.50,"lexp":75.9},{"cont":"Europe","year":1997,"lgdp":4.62,"lexp":78.3},{"cont":"Europe","year":2007,"lgdp":4.69,"lexp":80.2},
    {"cont":"Europe","year":1957,"lgdp":3.73,"lexp":65.8},{"cont":"Europe","year":1967,"lgdp":3.82,"lexp":69.6},{"cont":"Europe","year":1977,"lgdp":3.98,"lexp":70.7},{"cont":"Europe","year":1987,"lgdp":3.96,"lexp":71.0},{"cont":"Europe","year":1997,"lgdp":4.01,"lexp":72.8},{"cont":"Europe","year":2007,"lgdp":4.19,"lexp":75.6},
    {"cont":"Europe","year":1957,"lgdp":3.58,"lexp":61.5},{"cont":"Europe","year":1967,"lgdp":3.80,"lexp":66.6},{"cont":"Europe","year":1977,"lgdp":4.01,"lexp":70.4},{"cont":"Europe","year":1987,"lgdp":4.12,"lexp":74.1},{"cont":"Europe","year":1997,"lgdp":4.25,"lexp":76.0},{"cont":"Europe","year":2007,"lgdp":4.31,"lexp":78.1},
    {"cont":"Europe","year":1957,"lgdp":3.68,"lexp":64.1},{"cont":"Europe","year":1967,"lgdp":3.81,"lexp":66.8},{"cont":"Europe","year":1977,"lgdp":3.97,"lexp":69.5},{"cont":"Europe","year":1987,"lgdp":3.99,"lexp":69.5},{"cont":"Europe","year":1997,"lgdp":3.87,"lexp":69.7},{"cont":"Europe","year":2007,"lgdp":4.03,"lexp":72.5},
    {"cont":"Europe","year":1957,"lgdp":3.70,"lexp":61.7},{"cont":"Europe","year":1967,"lgdp":3.90,"lexp":66.9},{"cont":"Europe","year":1977,"lgdp":4.11,"lexp":70.3},{"cont":"Europe","year":1987,"lgdp":4.20,"lexp":71.2},{"cont":"Europe","year":1997,"lgdp":3.90,"lexp":72.2},{"cont":"Europe","year":2007,"lgdp":3.99,"lexp":74.0},
    {"cont":"Europe","year":1957,"lgdp":3.78,"lexp":67.5},{"cont":"Europe","year":1967,"lgdp":3.92,"lexp":71.0},{"cont":"Europe","year":1977,"lgdp":4.04,"lexp":70.5},{"cont":"Europe","year":1987,"lgdp":4.08,"lexp":71.1},{"cont":"Europe","year":1997,"lgdp":4.08,"lexp":72.7},{"cont":"Europe","year":2007,"lgdp":4.27,"lexp":74.7},
    {"cont":"Europe","year":1957,"lgdp":3.77,"lexp":67.9},{"cont":"Europe","year":1967,"lgdp":3.97,"lexp":69.2},{"cont":"Europe","year":1977,"lgdp":4.18,"lexp":71.0},{"cont":"Europe","year":1987,"lgdp":4.27,"lexp":72.3},{"cont":"Europe","year":1997,"lgdp":4.23,"lexp":75.1},{"cont":"Europe","year":2007,"lgdp":4.41,"lexp":77.9},
    {"cont":"Europe","year":1957,"lgdp":3.66,"lexp":66.7},{"cont":"Europe","year":1967,"lgdp":3.90,"lexp":71.4},{"cont":"Europe","year":1977,"lgdp":4.12,"lexp":74.4},{"cont":"Europe","year":1987,"lgdp":4.20,"lexp":76.9},{"cont":"Europe","year":1997,"lgdp":4.27,"lexp":78.8},{"cont":"Europe","year":2007,"lgdp":4.46,"lexp":80.9},
    {"cont":"Europe","year":1957,"lgdp":4.00,"lexp":72.5},{"cont":"Europe","year":1967,"lgdp":4.18,"lexp":74.2},{"cont":"Europe","year":1977,"lgdp":4.28,"lexp":75.4},{"cont":"Europe","year":1987,"lgdp":4.34,"lexp":76.9},{"cont":"Europe","year":1997,"lgdp":4.40,"lexp":79.4},{"cont":"Europe","year":2007,"lgdp":4.53,"lexp":80.9},
    {"cont":"Europe","year":1957,"lgdp":4.25,"lexp":70.6},{"cont":"Europe","year":1967,"lgdp":4.36,"lexp":72.8},{"cont":"Europe","year":1977,"lgdp":4.43,"lexp":75.4},{"cont":"Europe","year":1987,"lgdp":4.48,"lexp":77.4},{"cont":"Europe","year":1997,"lgdp":4.51,"lexp":79.4},{"cont":"Europe","year":2007,"lgdp":4.57,"lexp":81.7},
    {"cont":"Europe","year":1957,"lgdp":3.35,"lexp":48.1},{"cont":"Europe","year":1967,"lgdp":3.45,"lexp":54.3},{"cont":"Europe","year":1977,"lgdp":3.63,"lexp":59.5},{"cont":"Europe","year":1987,"lgdp":3.71,"lexp":63.1},{"cont":"Europe","year":1997,"lgdp":3.82,"lexp":68.8},{"cont":"Europe","year":2007,"lgdp":3.93,"lexp":71.8},
    {"cont":"Europe","year":1957,"lgdp":4.05,"lexp":70.4},{"cont":"Europe","year":1967,"lgdp":4.15,"lexp":71.4},{"cont":"Europe","year":1977,"lgdp":4.24,"lexp":72.8},{"cont":"Europe","year":1987,"lgdp":4.34,"lexp":75.0},{"cont":"Europe","year":1997,"lgdp":4.42,"lexp":77.2},{"cont":"Europe","year":2007,"lgdp":4.52,"lexp":79.4}
  ]},
  "transform": [
    {"joinaggregate": [
      {"op": "mean", "field": "lgdp", "as": "mx"},
      {"op": "mean", "field": "lexp", "as": "my"},
      {"op": "count", "as": "n"}
    ], "groupby": ["cont", "year"]},
    {"calculate": "(datum.lgdp - datum.mx) * (datum.lgdp - datum.mx)", "as": "dxx"},
    {"calculate": "(datum.lgdp - datum.mx) * (datum.lexp - datum.my)", "as": "dxy"},
    {"joinaggregate": [
      {"op": "sum", "field": "dxx", "as": "sxx"},
      {"op": "sum", "field": "dxy", "as": "sxy"}
    ], "groupby": ["cont", "year"]},
    {"calculate": "datum.my + datum.sxy / datum.sxx * (datum.lgdp - datum.mx)", "as": "fit"},
    {"calculate": "pow(datum.lexp - datum.fit, 2)", "as": "res2"},
    {"joinaggregate": [{"op": "sum", "field": "res2", "as": "rss"}], "groupby": ["cont", "year"]},
    {"calculate": "(1.96 + 2.4 / (datum.n - 2)) * sqrt(datum.rss / (datum.n - 2)) * sqrt(1 / datum.n + datum.dxx / datum.sxx)", "as": "half"},
    {"calculate": "datum.fit - datum.half", "as": "lo"},
    {"calculate": "datum.fit + datum.half", "as": "hi"}
  ],
  "bounds": "flush",
  "spacing": {"row": 7, "column": 7},
  "facet": {
    "column": {
      "field": "year", "type": "ordinal", "title": "Log GDP per capita",
      "header": {
        "labelOrient": "top", "titleOrient": "bottom",
        "labelColor": "white", "labelFontSize": 12, "labelFont": "Liberation Sans",
        "labelAlign": "center", "labelBaseline": "middle", "labelPadding": -21,
        "titleFontSize": 15, "titleFont": "Liberation Sans", "titleFontWeight": "normal", "titleColor": "black", "titlePadding": -2
      }
    },
    "row": {
      "field": "cont", "type": "nominal", "title": "Life expectancy in years",
      "header": {
        "labelOrient": "right", "titleOrient": "left", "labelAngle": 90,
        "labelColor": "white", "labelFontSize": 12, "labelFont": "Liberation Sans",
        "labelAlign": "center", "labelBaseline": "middle", "labelPadding": -17.5,
        "titleFontSize": 15, "titleFont": "Liberation Sans", "titleFontWeight": "normal", "titleColor": "black", "titlePadding": -1
      }
    }
  },
  "spec": {
    "width": 86,
    "height": 74,
    "resolve": {"axis": {"x": "independent", "y": "independent"}},
    "layer": [
      {
        "mark": {"type": "point", "shape": "circle", "filled": false, "color": "black", "size": 28, "strokeWidth": 1, "opacity": 1},
        "encoding": {
          "x": {"field": "lgdp", "type": "quantitative", "scale": {"domain": [2.313, 5.186], "nice": false, "zero": false},
            "axis": {"orient": "bottom", "title": null, "values": [2.5, 3, 3.5, 4, 4.5, 5],
              "labelExpr": "datum.value % 1 === 0 ? format(datum.value, 'd') : ''",
              "labelFontSize": {"condition": {"test": "datum.value % 1 === 0", "value": 12}, "value": 0},
              "domain": false, "grid": true, "gridColor": "#DEDEDE",
              "gridWidth": {"condition": {"test": "datum.value % 1 === 0", "value": 1}, "value": 0.5},
              "tickColor": "#B3B3B3", "tickSize": 3, "tickWidth": 1,
              "tickOpacity": {"condition": {"test": "datum.value % 1 === 0", "value": 1}, "value": 0},
              "labelColor": "#4D4D4D", "labelPadding": 2}},
          "y": {"field": "lexp", "type": "quantitative", "scale": {"domain": [27.3, 87.4], "nice": false, "zero": false},
            "axis": {"orient": "left", "title": null, "values": [30, 35, 40, 45, 50, 55, 60, 65, 70, 75, 80, 85],
              "labelExpr": "datum.value % 10 === 0 ? format(datum.value, 'd') : ''",
              "labelFontSize": {"condition": {"test": "datum.value % 10 === 0", "value": 12}, "value": 0},
              "domain": false, "grid": true, "gridColor": "#DEDEDE",
              "gridWidth": {"condition": {"test": "datum.value % 10 === 0", "value": 1}, "value": 0.5},
              "tickColor": "#B3B3B3", "tickSize": 3, "tickWidth": 1,
              "tickOpacity": {"condition": {"test": "datum.value % 10 === 0", "value": 1}, "value": 0},
              "labelColor": "#4D4D4D", "labelPadding": 2}}
        }
      },
      {
        "mark": {"type": "area", "color": "#999999", "opacity": 0.4},
        "encoding": {
          "x": {"field": "lgdp", "type": "quantitative", "scale": {"domain": [2.313, 5.186], "nice": false, "zero": false}, "axis": null},
          "y": {"field": "lo", "type": "quantitative", "scale": {"domain": [27.3, 87.4], "nice": false, "zero": false}, "axis": null},
          "y2": {"field": "hi"}
        }
      },
      {
        "mark": {"type": "line", "color": "#3366FF", "strokeWidth": 2.6},
        "encoding": {
          "x": {"field": "lgdp", "type": "quantitative", "scale": {"domain": [2.313, 5.186], "nice": false, "zero": false},
            "axis": {"orient": "top", "title": null, "grid": false, "ticks": false, "labels": false,
              "domain": true, "domainColor": "#B3B3B3", "domainWidth": 23, "domainCap": "butt",
              "offset": 11.5, "minExtent": 11.5, "maxExtent": 11.5}},
          "y": {"field": "fit", "type": "quantitative", "scale": {"domain": [27.3, 87.4], "nice": false, "zero": false},
            "axis": {"orient": "right", "title": null, "grid": false, "ticks": false, "labels": false,
              "domain": true, "domainColor": "#B3B3B3", "domainWidth": 16, "domainCap": "butt",
              "offset": 8, "minExtent": 8, "maxExtent": 8}}
        }
      }
    ]
  }
}
